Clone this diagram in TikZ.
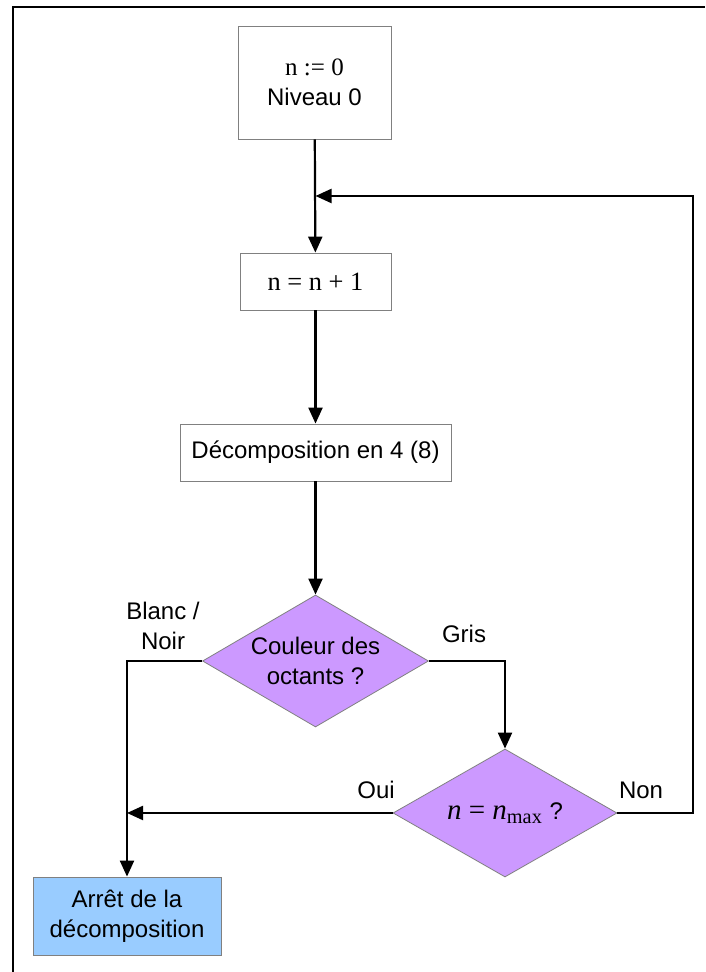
\documentclass[tikz,border=0pt]{standalone}
\usepackage{fontspec}
\setmainfont{Liberation Sans}
\newfontfamily\timesfont{Liberation Serif}
\definecolor{TestPurple}{HTML}{CC99FF}
\definecolor{StopBlue}{HTML}{99CCFF}
\usetikzlibrary{arrows.meta,shapes.geometric}

\begin{document}
\begin{tikzpicture}[x=0.5pt,y=0.5pt,>={Triangle[length=8pt,width=7pt]},
  font=\fontsize{12}{15}\selectfont,
  stepbox/.style={draw=black!50,fill=white,inner sep=0pt,align=center},
  testbox/.style={diamond,draw=black!50,fill=TestPurple,inner sep=0pt,shape aspect=1.7,align=center},
  flow/.style={->,line width=1.1pt}]
  \useasboundingbox (0,0) rectangle (705,972);
  \draw[line width=1.3pt] (13,0) -- (13,965) -- (705,965);
  % steps
  \node[stepbox,minimum width=76.5pt,minimum height=56.5pt] (init) at (314.5,889.5)
    {{\timesfont\fontsize{12.5}{15}\selectfont n := 0}\\Niveau 0};
  \node[stepbox,minimum width=75.5pt,minimum height=28.5pt] (incr) at (315.5,690.5)
    {\timesfont\fontsize{13.2}{15}\selectfont n = n + 1};
  \node[stepbox,minimum width=135.5pt,minimum height=28.5pt] (decomp) at (315.5,519.5)
    {Décomposition en 4 (8)};
  \node[testbox,minimum width=113pt,minimum height=66pt] (color) at (315.5,311)
    {Couleur des\\octants ?};
  \node[testbox,minimum width=112pt,minimum height=64pt] (level) at (505,159)
    {{\timesfont\fontsize{14.5}{16}\selectfont\textit{n} = \textit{n}\textsubscript{max}} ?};
  \node[stepbox,fill=StopBlue,minimum width=94pt,minimum height=39pt] (stop) at (127,56)
    {Arrêt de la\\décomposition};
  \coordinate (loop) at (693,776);
  % connectors
  \draw[flow] (init) -- (incr);
  \draw[flow] (incr) -- (decomp);
  \draw[flow] (decomp) -- (color);
  \draw[flow] (color.west) -| (stop.north);
  \draw[flow] (color.east) -| (level.north);
  \draw[flow] (level.west) -- (level.west -| stop.north);
  \draw[flow] (level.east) -| (loop) -- (loop -| incr);
  % labels
  \node[align=center] (bw) at (163,346) {Blanc /\\Noir};
  \node (grey) at (464,338) {Gris};
  \node (yes) at (376,182) {Oui};
  \node (no) at (641,182) {Non};
\end{tikzpicture}
\end{document}
